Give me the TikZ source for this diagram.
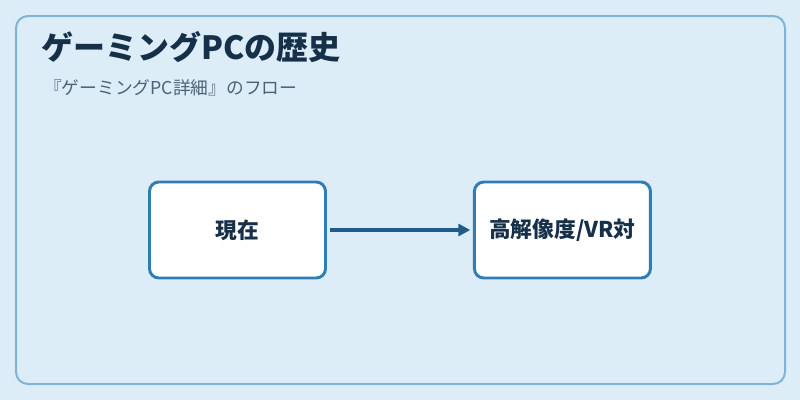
\documentclass[tikz,border=0pt]{standalone}
\usepackage{fontspec}
\newfontfamily\jp{Noto Sans CJK JP}
\usetikzlibrary{arrows.meta,positioning}
\definecolor{bgblue}{HTML}{DDEDF7}
\definecolor{frameblue}{HTML}{7FB4D6}
\definecolor{boxblue}{HTML}{2E7DB5}
\definecolor{arrowblue}{HTML}{1F5C8A}
\definecolor{inkdark}{HTML}{16304A}
\definecolor{subgray}{HTML}{4A6278}

\begin{document}
\begin{tikzpicture}[
  x=0.75pt, y=-0.75pt,
  font=\jp,
  frame/.style={draw=frameblue, line width=1.5pt, rounded corners=9pt, fill=bgblue},
  box/.style={draw=boxblue, line width=2.2pt, rounded corners=7pt, fill=white, align=center,
    minimum width=132pt, minimum height=72pt, text=inkdark, font=\jp\bfseries\fontsize{16.3}{19}\selectfont},
  arrow/.style={-{Triangle[length=9pt,width=9pt]}, line width=2.4pt, draw=arrowblue,
    shorten <=2pt, shorten >=2pt},
  title/.style={anchor=west, inner sep=0pt, text=inkdark, font=\jp\bfseries\fontsize{24}{29}\selectfont},
  note/.style={anchor=west, inner sep=0pt, text=subgray, font=\jp\fontsize{13.3}{16}\selectfont}
]

\fill[bgblue] (0,0) rectangle (800,400);
\useasboundingbox (0,0) rectangle (800,400);
\draw[frame] (16,16) rectangle (785,384);

\node[title] (head) at (41,47) {ゲーミングPCの歴史};
\node[note] (sub) at (44,88) {『ゲーミングPC詳細』のフロー};

\node[box] (now) at (237.5,230) {現在};
\node[box, right=109.5pt of now] (vr) {高解像度/VR対};

\draw[arrow] (now) -- (vr);

\end{tikzpicture}
\end{document}
